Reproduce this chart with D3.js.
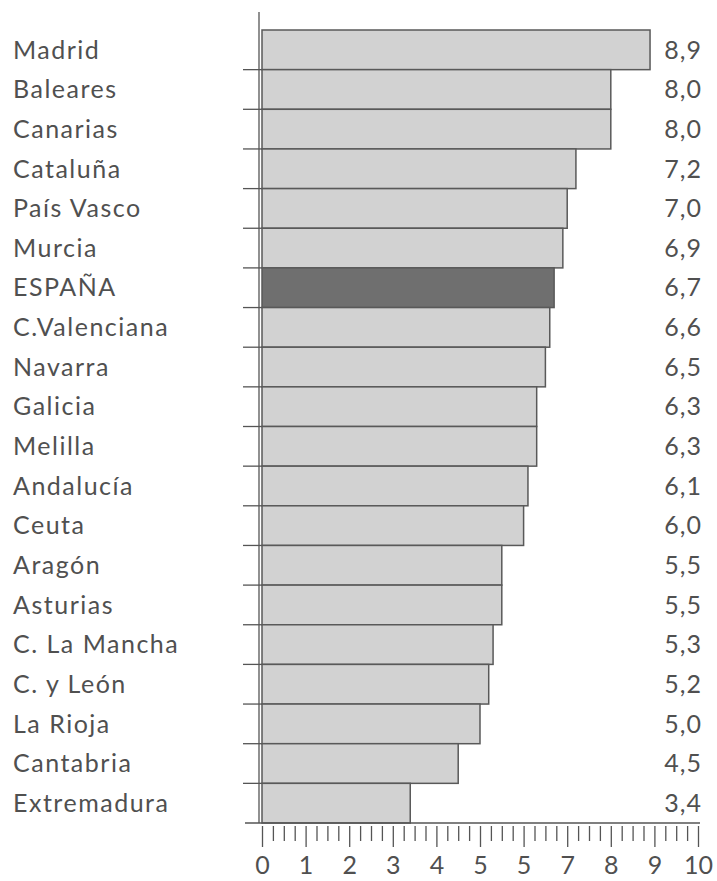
<!DOCTYPE html>
<html>
<head>
<meta charset="utf-8">
<script src="https://cdn.jsdelivr.net/npm/d3@7"></script>
<style>
  body { margin: 0; background: #fff; }
  text { font-family: Lato, "Open Sans", sans-serif; fill: #505050; }
</style>
</head>
<body>
<div id="chart"></div>
<script>
const regions = ["Madrid", "Baleares", "Canarias", "Cataluña", "País Vasco", "Murcia", "ESPAÑA",
  "C.Valenciana", "Navarra", "Galicia", "Melilla", "Andalucía", "Ceuta", "Aragón", "Asturias",
  "C. La Mancha", "C. y León", "La Rioja", "Cantabria", "Extremadura"];
const values = [8.9, 8.0, 8.0, 7.2, 7.0, 6.9, 6.7, 6.6, 6.5, 6.3, 6.3, 6.1, 6.0, 5.5, 5.5, 5.3, 5.2, 5.0, 4.5, 3.4];
const tickLabels = ["0", "1", "2", "3", "4", "5", "5", "7", "8", "9", "10"];
const highlight = "ESPAÑA";

const width = 717, height = 881;
const svg = d3.select("#chart").append("svg")
    .attr("width", width).attr("height", height);

const x = d3.scaleLinear().domain([0, 10]).range([262, 698]);
const y = d3.scaleBand().domain(regions).range([30, 823]).padding(0);

const data = regions.map((r, i) => ({ name: r, value: values[i] }));

// eje vertical
svg.append("line")
    .attr("x1", 259).attr("x2", 259).attr("y1", 12).attr("y2", 823)
    .attr("stroke", "#555").attr("stroke-width", 1.3);

// marcas entre filas
svg.selectAll("line.sep")
    .data(regions.slice(1))
    .enter().append("line").attr("class", "sep")
    .attr("x1", 243).attr("x2", x(0))
    .attr("y1", d => y(d)).attr("y2", d => y(d))
    .attr("stroke", "#555").attr("stroke-width", 1.3);

svg.selectAll("rect.bar")
    .data(data)
    .enter().append("rect").attr("class", "bar")
    .attr("x", x(0))
    .attr("y", d => y(d.name))
    .attr("width", d => x(d.value) - x(0))
    .attr("height", y.bandwidth())
    .attr("fill", d => d.name === highlight ? "#6f6f6f" : "#d2d2d2")
    .attr("stroke", "#595959").attr("stroke-width", 1.5);

svg.selectAll("text.lab")
    .data(data)
    .enter().append("text").attr("class", "lab")
    .attr("x", 13)
    .attr("y", d => y(d.name) + y.bandwidth() / 2)
    .attr("dy", "0.35em")
    .style("font-size", "25px")
    .style("letter-spacing", "1.5px")
    .text(d => d.name);

svg.selectAll("text.val")
    .data(data)
    .enter().append("text").attr("class", "val")
    .attr("x", 702)
    .attr("y", d => y(d.name) + y.bandwidth() / 2)
    .attr("dy", "0.35em")
    .attr("text-anchor", "end")
    .style("font-size", "25px")
    .style("letter-spacing", "1px")
    .text(d => d3.format(".1f")(d.value).replace(".", ","));

// eje x con marcas de cuarto
const axis = svg.append("g")
    .attr("transform", `translate(0,823)`)
    .call(d3.axisBottom(x)
        .tickValues(d3.range(0, 40.5, 1).map(v => v / 4))
        .tickSize(24)
        .tickSizeOuter(0)
        .tickFormat(v => Number.isInteger(v) ? tickLabels[v] : ""));

axis.select(".domain").remove();
axis.selectAll(".tick line")
    .attr("stroke", "#555").attr("stroke-width", 1.3)
    .attr("y1", 3)
    .attr("y2", d => Number.isInteger(d) ? 24 : 18);
axis.selectAll(".tick text")
    .attr("y", 33)
    .style("font-size", "25px")
    .style("font-family", "Lato, 'Open Sans', sans-serif")
    .attr("fill", "#505050");

svg.append("line")
    .attr("x1", 245).attr("x2", 700).attr("y1", 823).attr("y2", 823)
    .attr("stroke", "#555").attr("stroke-width", 1.5);
</script>
</body>
</html>
